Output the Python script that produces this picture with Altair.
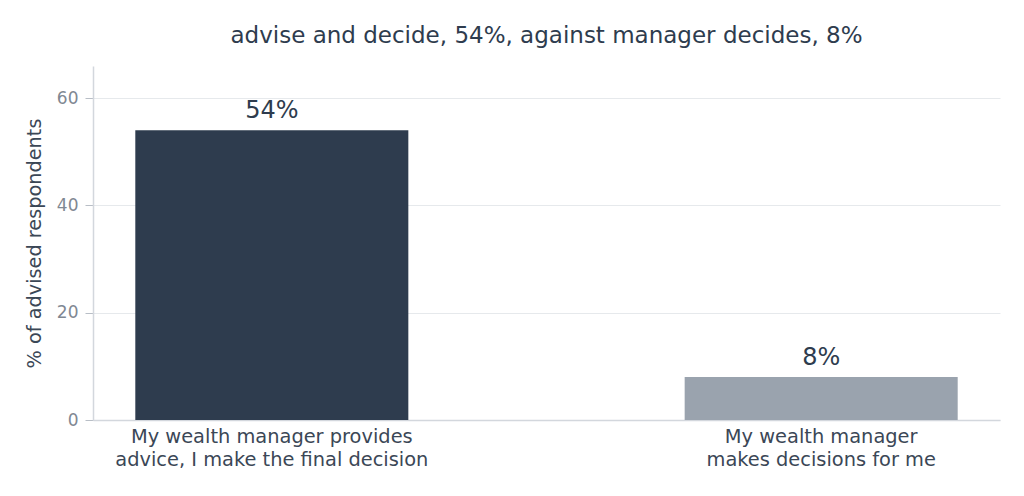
import altair as alt
import pandas as pd

categories = ["My wealth manager provides\nadvice, I make the final decision",
              "My wealth manager\nmakes decisions for me"]
values = [54, 8]
labels = ["54%", "8%"]
colors = ["#2e3c4e", "#9aa3ae"]

df = pd.DataFrame({"cat": categories, "val": values, "lab": labels, "col": colors})

FONT = "DejaVu Sans"

x = alt.X("cat:N", sort=categories, title=None,
          scale=alt.Scale(paddingInner=0.503, paddingOuter=0.077),
          axis=alt.Axis(labelAngle=0, labelExpr="split(datum.label, '\\n')",
                        labelFontSize=19.4, labelColor="#3b4756", labelFont=FONT,
                        labelLineHeight=23, labelPadding=7, ticks=False,
                        domainColor="#d3d7dd", domainWidth=1.5, grid=False,
                        labelLimit=500))
y = alt.Y("val:Q", title="% of advised respondents",
          scale=alt.Scale(domain=[0, 66], nice=False),
          axis=alt.Axis(values=[0, 20, 40, 60], labelFontSize=17, labelColor="#7f8893",
                        labelFont=FONT, titleFont=FONT, titleFontSize=19.3,
                        titleColor="#3b4756", titleFontWeight="normal", titlePadding=12,
                        tickSize=8, tickColor="#b8bec6", labelPadding=7,
                        domainColor="#d3d7dd", domainWidth=1.5,
                        gridColor="#e6e9ec", gridWidth=1))

bars = alt.Chart(df).mark_bar().encode(
    x=x, y=y, color=alt.Color("col:N", scale=None))

text = alt.Chart(df).mark_text(dy=-7, baseline="bottom", fontSize=24,
                               font=FONT, color="#2e3c4e").encode(
    x=alt.X("cat:N", sort=categories), y="val:Q", text="lab:N")

chart = (bars + text).properties(
    width=907, height=354,
    autosize=alt.AutoSizeParams(type="none"),
    padding={"left": 85, "top": 58, "right": 16, "bottom": 60},
    title=alt.TitleParams("advise and decide, 54%, against manager decides, 8%",
                          font=FONT, fontSize=23, fontWeight="normal",
                          color="#2e3c4e", offset=18, anchor="middle"),
    background="white",
).configure_view(stroke=None)

chart.save("out.html", embed_options={"renderer": "svg", "actions": False})
